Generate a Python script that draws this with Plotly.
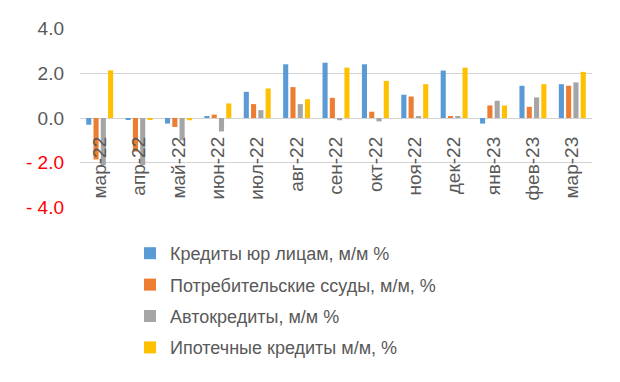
import plotly.graph_objects as go

categories = ["мар-22", "апр-22", "май-22", "июн-22", "июл-22", "авг-22", "сен-22",
              "окт-22", "ноя-22", "дек-22", "янв-23", "фев-23", "мар-23"]

corporate = [-0.3, -0.05, -0.25, 0.05, 1.17, 2.4, 2.47, 2.4, 1.04, 2.12, -0.25, 1.44, 1.51]
consumer = [-1.85, -1.5, -0.4, 0.15, 0.62, 1.38, 0.9, 0.28, 0.96, 0.05, 0.56, 0.5, 1.44]
auto = [-2.1, -2.1, -1.0, -0.6, 0.35, 0.62, -0.1, -0.15, 0.05, 0.05, 0.77, 0.92, 1.59]
mortgage = [2.13, -0.05, -0.1, 0.65, 1.32, 0.84, 2.25, 1.66, 1.51, 2.25, 0.56, 1.51, 2.06]

series_names = ["Кредиты юр лицам, м/м %", "Потребительские ссуды, м/м, %",
                "Автокредиты, м/м %", "Ипотечные кредиты м/м, %"]
series_values = [corporate, consumer, auto, mortgage]
colors = ["#5B9BD5", "#ED7D31", "#A5A5A5", "#FFC000"]

y_tick_vals = [-4, -2, 0, 2, 4]
y_tick_labels = ["- 4.0", "- 2.0", "0.0", "2.0", "4.0"]


def tick_text(label, value):
    if value < 0:
        return f"<span style='color:#FF0000'>{label}</span>"
    return label


fig = go.Figure()
for i, (name, vals, col) in enumerate(zip(series_names, series_values, colors)):
    fig.add_trace(go.Bar(x=categories, y=vals, name=name, marker_color=col,
                         marker_line_width=0, legendgroup=f"g{i}"))

# page body has an 8px default margin, so the figure is sized 612x374
fig.update_layout(
    width=612, height=374,
    margin=dict(l=72, r=28, t=20, b=174, autoexpand=False),
    paper_bgcolor="white", plot_bgcolor="white",
    barmode="group", bargap=0.26, bargroupgap=0.3,
    font=dict(family="Liberation Sans, Arial, sans-serif", color="#595959"),
    showlegend=True,
    legend=dict(
        x=(130 - 80) / 512, y=(208 - 235) / 180, xanchor="left", yanchor="top",
        orientation="v", tracegroupgap=5,
        font=dict(size=18, color="#595959"),
        bgcolor="rgba(0,0,0,0)",
    ),
    xaxis=dict(
        type="category", anchor="free", position=0.5,
        showline=False, ticks="", tickangle=-90,
        tickfont=dict(size=19, color="#595959"),
        ticklabelstandoff=14, showgrid=False, automargin=False,
    ),
    yaxis=dict(
        range=[-4.02, 4.02], tickvals=y_tick_vals,
        ticktext=[tick_text(l, v) for l, v in zip(y_tick_labels, y_tick_vals)],
        tickfont=dict(size=19, color="#595959"),
        showgrid=True, gridcolor="#D3D3D3", gridwidth=1.3,
        zeroline=True, zerolinecolor="#D3D3D3", zerolinewidth=1.3,
        showline=False, ticks="", ticklabelstandoff=15, automargin=False,
        domain=[0, 1],
    ),
)

fig.write_html("out.html")
